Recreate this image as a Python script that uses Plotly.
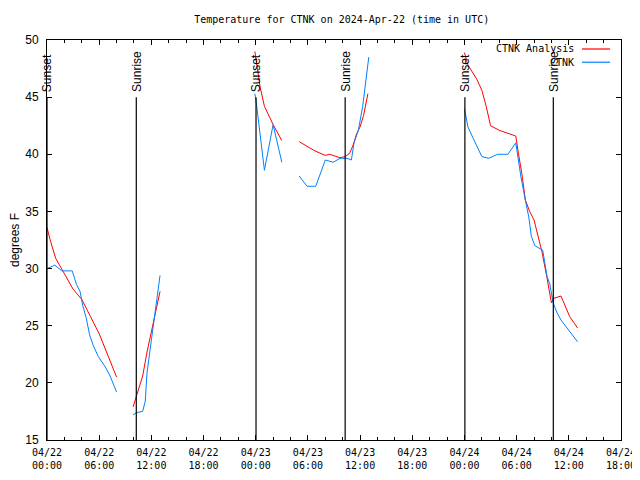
import plotly.graph_objects as go

# ---- data ----
analysis_time = [
    "2024-04-22 00:00", "2024-04-22 00:24", "2024-04-22 01:00", "2024-04-22 02:00", "2024-04-22 03:00",
    "2024-04-22 04:00", "2024-04-22 04:30", "2024-04-22 05:00", "2024-04-22 06:00", "2024-04-22 07:00",
    "2024-04-22 08:00", None,
    "2024-04-22 09:54", "2024-04-22 10:30", "2024-04-22 11:00", "2024-04-22 11:30", "2024-04-22 12:00",
    "2024-04-22 12:30", "2024-04-22 13:00", None,
    "2024-04-22 23:54", "2024-04-23 00:30", "2024-04-23 01:00", "2024-04-23 01:30", "2024-04-23 02:00",
    "2024-04-23 03:00", None,
    "2024-04-23 05:00", "2024-04-23 05:54", "2024-04-23 06:48", "2024-04-23 08:00", "2024-04-23 08:30",
    "2024-04-23 09:06", "2024-04-23 09:42", "2024-04-23 10:18", "2024-04-23 10:48", "2024-04-23 11:12",
    "2024-04-23 11:36", "2024-04-23 12:00", "2024-04-23 12:24", "2024-04-23 12:54", None,
    "2024-04-24 00:00", "2024-04-24 00:24", "2024-04-24 01:24", "2024-04-24 02:00", "2024-04-24 02:30",
    "2024-04-24 03:00", "2024-04-24 04:00", "2024-04-24 05:00", "2024-04-24 05:54", "2024-04-24 06:12",
    "2024-04-24 06:36", "2024-04-24 07:00", "2024-04-24 07:30", "2024-04-24 08:00", "2024-04-24 08:30",
    "2024-04-24 08:54", "2024-04-24 09:30", "2024-04-24 10:00", "2024-04-24 10:18", "2024-04-24 11:06",
    "2024-04-24 12:06", "2024-04-24 13:00",
]
analysis_temp = [
    33.6, 32.4, 30.9, 29.6, 28.2, 27.3, 26.6, 25.8, 24.3, 22.4, 20.5, None,
    17.9, 19.4, 20.6, 22.7, 24.5, 26.2, 28.0, None,
    49.0, 45.9, 44.2, 43.4, 42.6, 41.2, None,
    41.1, 40.7, 40.3, 39.9, 40.0, 39.85, 39.7, 39.8, 40.1, 40.8, 41.8, 42.4, 43.4, 45.3, None,
    48.9, 47.8, 46.6, 45.6, 44.2, 42.5, 42.1, 41.8, 41.6, 40.1, 38.3, 36.0, 35.0, 34.25, 32.8,
    31.5, 29.15, 27.0, 27.4, 27.6, 25.8, 24.8,
]

obs_time = [
    "2024-04-22 00:00", "2024-04-22 00:18", "2024-04-22 00:54", "2024-04-22 01:42", "2024-04-22 02:54",
    "2024-04-22 03:24", "2024-04-22 03:48", "2024-04-22 04:06", "2024-04-22 04:30", "2024-04-22 04:54",
    "2024-04-22 05:18", "2024-04-22 05:54", "2024-04-22 06:42", "2024-04-22 07:12", "2024-04-22 08:00", None,
    "2024-04-22 09:54", "2024-04-22 10:18", "2024-04-22 11:00", "2024-04-22 11:18", "2024-04-22 11:30",
    "2024-04-22 11:48", "2024-04-22 12:12", "2024-04-22 12:36", "2024-04-22 13:00", None,
    "2024-04-22 23:54", "2024-04-23 00:06", "2024-04-23 01:00", "2024-04-23 02:00", "2024-04-23 03:00", None,
    "2024-04-23 05:00", "2024-04-23 05:54", "2024-04-23 06:54", "2024-04-23 08:00", "2024-04-23 08:54",
    "2024-04-23 09:42", "2024-04-23 10:30", "2024-04-23 11:00", "2024-04-23 11:18", "2024-04-23 11:48",
    "2024-04-23 12:18", "2024-04-23 13:00", None,
    "2024-04-24 00:00", "2024-04-24 00:24", "2024-04-24 01:00", "2024-04-24 02:00", "2024-04-24 02:48",
    "2024-04-24 03:48", "2024-04-24 05:00", "2024-04-24 05:54", "2024-04-24 06:12", "2024-04-24 06:30",
    "2024-04-24 07:00", "2024-04-24 07:24", "2024-04-24 07:42", "2024-04-24 08:06", "2024-04-24 09:00",
    "2024-04-24 09:30", "2024-04-24 09:48", "2024-04-24 10:12", "2024-04-24 10:36", "2024-04-24 11:06",
    "2024-04-24 12:00", "2024-04-24 13:00",
]
obs_temp = [
    30.0, 30.1, 30.3, 29.8, 29.8, 28.6, 28.0, 26.8, 25.7, 24.2, 23.3, 22.3, 21.4, 20.7, 19.2, None,
    17.2, 17.4, 17.5, 18.4, 20.9, 22.6, 25.2, 27.0, 29.4, None,
    45.3, 44.3, 38.6, 42.6, 39.3, None,
    38.1, 37.2, 37.2, 39.5, 39.3, 39.65, 39.65, 39.5, 41.0, 42.1, 44.2, 48.5, None,
    44.0, 42.4, 41.4, 39.8, 39.65, 40.0, 40.0, 41.0, 39.5, 38.0, 36.0, 34.5, 32.8, 32.0, 31.6,
    29.3, 28.7, 27.0, 26.2, 25.5, 24.6, 23.6,
]

sun_times = ["2024-04-22 00:00", "2024-04-22 10:16", "2024-04-23 00:02",
             "2024-04-23 10:17", "2024-04-24 00:03", "2024-04-24 10:13"]
sun_labels = ["Sunset", "Sunrise", "Sunset", "Sunrise", "Sunset", "Sunrise"]

series_names = ["CTNK Analysis", "CTNK"]
series_colors = ["#ff0000", "#0080ff"]

x_range = ["2024-04-22 00:00", "2024-04-24 18:00"]
y_range = [15, 50]

MONO = "DejaVu Sans Mono"
SANS = "Liberation Sans"

fig = go.Figure()
fig.add_trace(go.Scatter(x=analysis_time, y=analysis_temp, mode="lines", name=series_names[0],
                         line=dict(color=series_colors[0], width=1), connectgaps=False, showlegend=False))
fig.add_trace(go.Scatter(x=obs_time, y=obs_temp, mode="lines", name=series_names[1],
                         line=dict(color=series_colors[1], width=1), connectgaps=False, showlegend=False))

for t, lab in zip(sun_times, sun_labels):
    fig.add_shape(type="line", x0=t, x1=t, y0=15, y1=45, xref="x", yref="y",
                  line=dict(color="black", width=1.2))
    fig.add_annotation(x=t, y=45, xref="x", yref="y", text=lab, textangle=-90,
                       showarrow=False, yanchor="bottom", xanchor="center", yshift=3,
                       font=dict(family=SANS, size=12, color="black"))

# manual legend (text then line sample, gnuplot style)
leg_y = [0.9775, 0.9445]
for name, col, yy in zip(series_names, series_colors, leg_y):
    fig.add_annotation(x=0.921, y=yy, xref="paper", yref="paper", text=name, showarrow=False,
                       xanchor="right", yanchor="middle", font=dict(family=MONO, size=10, color="black"))
    fig.add_shape(type="line", x0=0.932, x1=0.981, y0=yy, y1=yy, xref="paper", yref="paper",
                  line=dict(color=col, width=1.2))

fig.update_layout(
    width=632, height=472,
    margin=dict(l=39, r=19, t=32, b=40, autoexpand=False),
    paper_bgcolor="white", plot_bgcolor="white",
    title=dict(text="Temperature for CTNK on 2024-Apr-22 (time in UTC)", x=0.528, xanchor="center",
               y=0.975, yanchor="middle", font=dict(family=MONO, size=10, color="black"),
               automargin=False),
    showlegend=False,
)
fig.update_xaxes(
    type="date", range=x_range, showgrid=False, zeroline=False, automargin=False,
    showline=True, linecolor="black", linewidth=1, mirror="ticks",
    ticks="inside", ticklen=5, tickcolor="black", dtick=6 * 3600 * 1000,
    tick0="2024-04-22 00:00", tickformat="%m/%d<br>%H:%M", ticklabelstandoff=3,
    tickfont=dict(family=MONO, size=10, color="black"),
    minor=dict(dtick=2 * 3600 * 1000, ticks="inside", ticklen=3, tickcolor="black", showgrid=False),
)
fig.update_yaxes(
    range=y_range, showgrid=False, zeroline=False, automargin=False,
    showline=True, linecolor="black", linewidth=1, mirror="ticks",
    ticks="inside", ticklen=5, tickcolor="black", dtick=5, tick0=15, ticklabelstandoff=5,
    tickfont=dict(family=SANS, size=12, color="black"),
    title=dict(text="degrees F", font=dict(family=SANS, size=12, color="black"), standoff=18),
)

fig.write_html("out.html")
